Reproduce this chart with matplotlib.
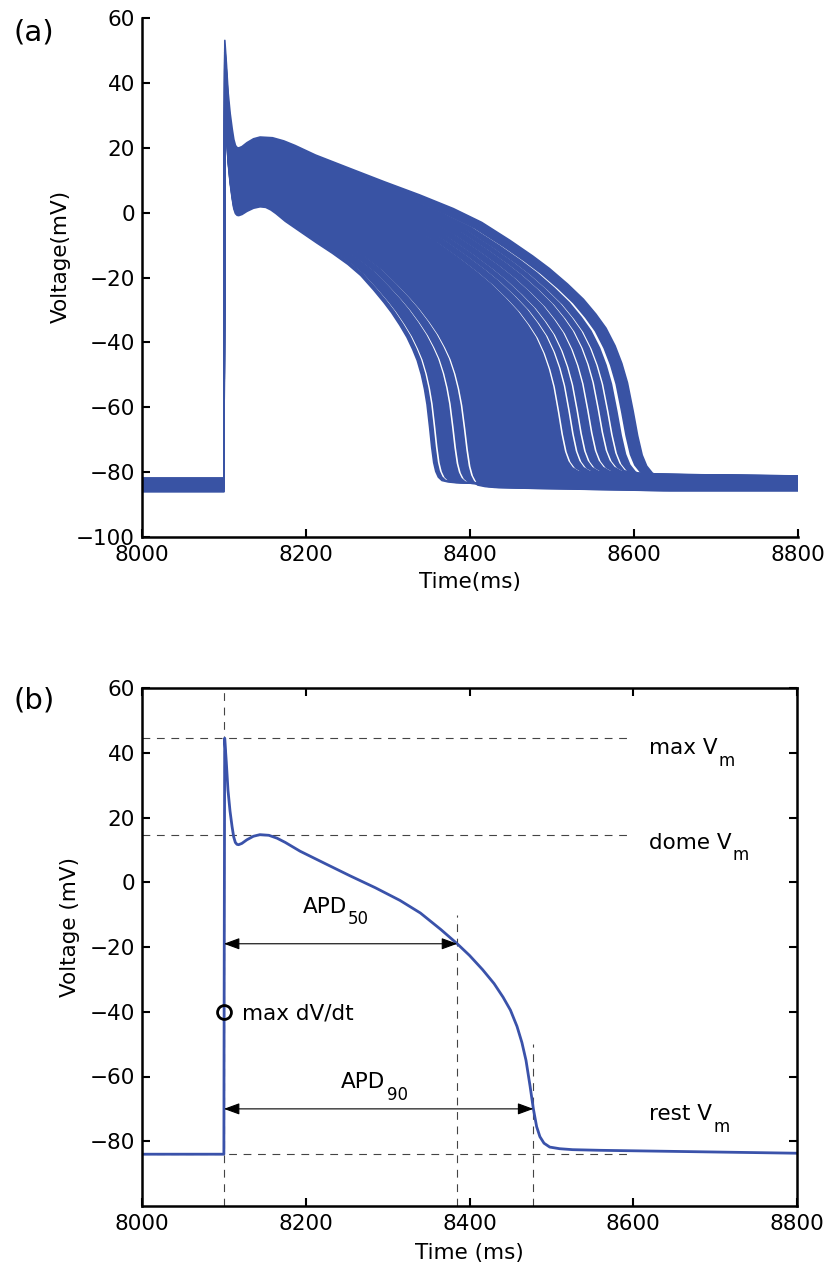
import numpy as np
import matplotlib.pyplot as plt

plt.rcParams['font.family'] = ['DejaVu Sans']
plt.rcParams['mathtext.fontset'] = 'dejavusans'

# single action potential (ms, mV)
ap_t = [8000, 8100, 8100.3, 8101, 8103, 8105, 8107.5, 8110, 8112, 8114, 8116,
        8118, 8122, 8128, 8136, 8144, 8155, 8165, 8175, 8193, 8225, 8254,
        8285, 8315, 8340, 8365, 8385, 8400, 8416, 8430, 8441, 8450, 8458,
        8464, 8469, 8474, 8478, 8482, 8486, 8491, 8498, 8510, 8526, 8560,
        8641, 8720, 8800]
ap_v = [-84, -84, -40, 44.5, 37.0, 28.5, 22.0, 17.2, 14.0, 12.3, 11.7,
        11.6, 12.0, 13.1, 14.2, 14.7, 14.5, 13.6, 12.3, 9.6, 5.6, 2.0,
        -1.7, -5.6, -9.5, -14.6, -19.0, -22.6, -27.0, -31.3, -35.5, -39.5, -44.5,
        -49.5, -55.0, -63.0, -70.0, -75.5, -78.6, -80.6, -81.8, -82.3, -82.6, -82.8,
        -83.1, -83.4, -83.7]

# biomarkers
t_stim = 8100
t_apd50 = 8385
t_apd90 = 8478
v_max = 44.5
v_dome = 14.7
v_rest = -84
v_apd50 = -19
v_apd90 = -70
v_dvdt = -40

# population: bundles of traces, edges given by the time they pass -60 mV
bundle_lo_ms = [8348, 8356, 8378, 8392, 8509, 8522, 8532, 8545, 8558, 8569, 8584]
bundle_hi_ms = [8352, 8374, 8388, 8505, 8518, 8528, 8541, 8554, 8565, 8578, 8598]
dome_lo_mv = [1.8, 2.4, 3.5, 4.7, 14.5, 15.6, 16.5, 17.6, 18.7, 19.7, 20.8]
dome_hi_mv = [2.4, 3.5, 4.7, 14.5, 15.6, 16.5, 17.6, 18.7, 19.7, 20.8, 23.3]
rest_lo_mv = [-84.5, -84.5, -85.0, -86.0, -82.0, -82.0, -82.0, -82.0, -82.0, -83.0, -83.5]
rest_hi_mv = [-84.5, -85.0, -86.0, -82.0, -82.0, -82.0, -82.0, -82.0, -83.0, -83.5, -84.0]

blue = '#3953a4'
t_dome = 8144


def make_trace(rep_ms, dome, rest):
    t = np.array(ap_t, dtype=float)
    v = np.array(ap_v, dtype=float)
    k = (dome - rest) / (v_dome - v_rest)
    fall = t >= t_dome
    target = v_rest + (-60 - rest) / k
    t_cross = np.interp(target, v[fall][::-1], t[fall][::-1])
    s = (rep_ms - t_dome) / (t_cross - t_dome)
    tt = np.where(fall, t_dome + (t - t_dome) * s, t)
    # spike height above the dome is kept, the rest is scaled
    vv = np.where(v > v_dome, dome + (v - v_dome), rest + (v - v_rest) * k)
    if tt[-1] < 8800:
        tt = np.append(tt, 8800)
        vv = np.append(vv, vv[-1])
    return tt, vv


def style_axes(ax):
    ax.set_xlim(8000, 8800)
    ax.set_ylim(-100, 60)
    ax.set_xticks([8000, 8200, 8400, 8600, 8800])
    for sp in ax.spines.values():
        sp.set_linewidth(1.8)
    ax.tick_params(direction='in', length=6, width=1.5, labelsize=15.5)
    ax.tick_params(axis='x', pad=6)
    ax.tick_params(axis='y', pad=5)


def sub_label(ax, x, y, main, sub):
    txt = ax.text(x, y, main, fontsize=15.5, va='baseline')
    ax.annotate(sub, xy=(1, 0), xycoords=txt, xytext=(1, -5.5),
                textcoords='offset points', fontsize=12, va='baseline')


fig = plt.figure(figsize=(8.32, 12.68), dpi=100)

# (a) population of models
ax1 = fig.add_axes([142 / 832, 731 / 1268, 656 / 832, 519 / 1268])
for lo, hi, dl, dh, rl, rh in zip(bundle_lo_ms, bundle_hi_ms, dome_lo_mv,
                                  dome_hi_mv, rest_lo_mv, rest_hi_mv):
    t1, v1 = make_trace(lo, dl, rl)
    t2, v2 = make_trace(hi, dh, rh)
    ax1.fill(np.concatenate([t1, t2[::-1]]), np.concatenate([v1, v2[::-1]]),
             color=blue, lw=0)
    ax1.plot(t1, v1, color=blue, lw=1.2)
    ax1.plot(t2, v2, color=blue, lw=1.2)
style_axes(ax1)
ax1.set_yticks(np.arange(-100, 61, 20))
ax1.spines['top'].set_visible(False)
ax1.spines['right'].set_visible(False)
ax1.set_xlabel('Time(ms)', fontsize=15.5, labelpad=5)
ax1.set_ylabel('Voltage(mV)', fontsize=15.5)
ax1.yaxis.set_label_coords(-0.108, 0.54)

# (b) single trace with biomarkers
ax2 = fig.add_axes([142 / 832, 62 / 1268, 655 / 832, 518 / 1268])
dash = dict(color='#444444', lw=0.8, dashes=(7, 6))
ax2.plot([8000, 8595], [v_max, v_max], **dash)
ax2.plot([8000, 8595], [v_dome, v_dome], **dash)
ax2.plot([8000, 8595], [v_rest, v_rest], **dash)
ax2.plot([t_stim, t_stim], [-100, 60], **dash)
ax2.plot([t_apd50, t_apd50], [-100, -10], **dash)
ax2.plot([t_apd90, t_apd90], [-100, -50], **dash)
ax2.plot(ap_t, ap_v, color='#3a52aa', lw=2)
ax2.plot([t_stim], [v_dvdt], 'o', mfc='none', mec='black', ms=10, mew=2)

arrow = dict(arrowstyle='<|-|>,head_length=0.6,head_width=0.22', color='black',
             lw=0.8, shrinkA=0, shrinkB=0, mutation_scale=16)
ax2.annotate('', xy=(t_apd50, v_apd50), xytext=(t_stim, v_apd50), arrowprops=arrow)
ax2.annotate('', xy=(t_apd90, v_apd90), xytext=(t_stim, v_apd90), arrowprops=arrow)

sub_label(ax2, 8196, -9.4, 'APD', '50')
sub_label(ax2, 8243, -63.6, 'APD', '90')
ax2.text(8122, -42.5, 'max dV/dt', fontsize=15.5, va='baseline')
sub_label(ax2, 8619, 39.6, 'max V', 'm')
sub_label(ax2, 8619, 10.4, 'dome V', 'm')
sub_label(ax2, 8619, -73.4, 'rest V', 'm')

style_axes(ax2)
ax2.set_yticks(np.arange(-80, 61, 20))
ax2.tick_params(top=True, right=True)
ax2.set_xlabel('Time (ms)', fontsize=15.5, labelpad=6)
ax2.set_ylabel('Voltage (mV)', fontsize=15.5)
ax2.yaxis.set_label_coords(-0.095, 0.539)

fig.text(13 / 832, 1 - 18 / 1268, '(a)', fontsize=21, va='top', ha='left')
fig.text(13 / 832, 1 - 686 / 1268, '(b)', fontsize=21, va='top', ha='left')

fig.savefig('out.png', dpi=100)
